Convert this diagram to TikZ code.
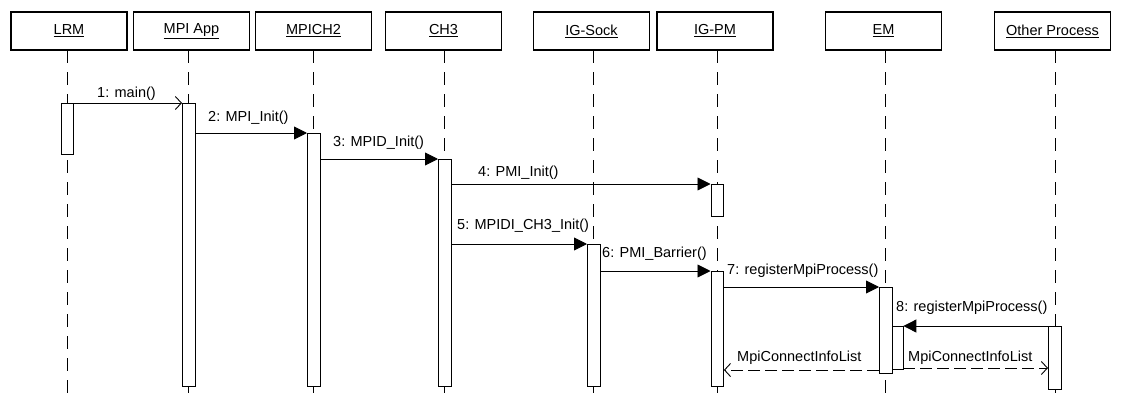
\documentclass[tikz,border=0pt]{standalone}
\usepackage{fontspec}
\setmainfont{Liberation Sans}
\usetikzlibrary{arrows.meta,calc}
\begin{document}
\begin{tikzpicture}[x=1pt,y=-1pt,
  head/.style={draw, line width=1.6pt, fill=white, minimum width=116pt, minimum height=38pt, inner sep=0pt, font=\fontsize{14.5}{16}\selectfont},
  life/.style={line width=0.9pt, dash pattern=on 13pt off 9pt},
  act/.style={draw, line width=0.9pt, fill=white, minimum width=12.5pt, inner sep=0pt, anchor=north west},
  msg/.style={line width=0.9pt, -{Triangle[length=13pt,width=13pt]}},
  call/.style={line width=0.9pt, -{Straight Barb[length=6pt,width=13pt,line width=0.9pt]}},
  ret/.style={line width=0.9pt, dash pattern=on 12pt off 5pt, -{Straight Barb[length=6pt,width=13pt,line width=0.9pt]}},
  lbl/.style={font=\fontsize{14.5}{16}\selectfont, inner sep=0pt, anchor=base west}
]
\useasboundingbox (0,0) rectangle (1122,397);
% heads
\node[head] (hL) at (69,31) {\underline{LRM}};
\node[head] (hA) at (191.5,31) {\underline{MPI App}};
\node[head] (hM) at (313.5,31) {\underline{MPICH2}};
\node[head] (hC) at (443.5,31) {\underline{CH3}};
\node[head] (hS) at (591.5,31) {\underline{IG-Sock}};
\node[head] (hP) at (715,31) {\underline{IG-PM}};
\node[head] (hE) at (883.5,31) {\underline{EM}};
\node[head] (hO) at (1052.5,31) {\underline{Other Process}};
% lifeline ends
\foreach \n/\x in {L/67,A/188,M/313,C/444,S/593,P/717,E/885,O/1055}{
  \coordinate (e\n) at (\x,397);
  \draw[life] (\x,50) -- (e\n);
}
% activations
\node[act, minimum height=51pt] (aL) at (60.5,103) {};
\node[act, minimum height=283pt] (aA) at (182,103) {};
\node[act, minimum height=253pt] (aM) at (307,133) {};
\node[act, minimum height=227pt] (aC) at (438,159) {};
\node[act, minimum height=32pt] (aP1) at (710.5,184) {};
\node[act, minimum height=142pt] (aS) at (587,244) {};
\node[act, minimum height=115pt] (aP2) at (710.5,271) {};
\node[act, minimum height=86pt] (aE) at (879,287) {};
\node[act, minimum height=43pt, minimum width=11pt] (aE2) at (891.5,326) {};
\node[act, minimum height=63pt] (aO) at (1048,326) {};
% messages
\draw[call] (aL.north east) -- (aA.north west);
\draw[msg] (aA.east |- aM.north) -- (aM.north west);
\draw[msg] (aM.east |- aC.north) -- (aC.north west);
\draw[msg] (aC.east |- aP1.north) -- (aP1.north west);
\draw[msg] (aC.east |- aS.north) -- (aS.north west);
\draw[msg] (aS.east |- aP2.north) -- (aP2.north west);
\draw[msg] (aP2.east |- aE.north) -- (aE.north west);
\draw[msg] (aO.north west) -- (aE2.north east);
\coordinate (r1) at (0,370);
\coordinate (r2) at (0,368);
\draw[ret] (aE.west |- r1) -- (aP2.east |- r1);
\draw[ret] (aE2.east |- r2) -- (aO.west |- r2);
% labels
\node[lbl] (l1) at (97,97) {1: main()};
\node[lbl] (l2) at (208,121) {2: MPI\_Init()};
\node[lbl] (l3) at (333,146) {3: MPID\_Init()};
\node[lbl] (l4) at (478,176) {4: PMI\_Init()};
\node[lbl] (l5) at (457,229) {5: MPIDI\_CH3\_Init()};
\node[lbl] (l6) at (602,257) {6: PMI\_Barrier()};
\node[lbl] (l7) at (727,274) {7: registerMpiProcess()};
\node[lbl] (l8) at (896,311) {8: registerMpiProcess()};
\node[lbl] (l9) at (737,361) {MpiConnectInfoList};
\node[lbl] (l10) at (908,361) {MpiConnectInfoList};
\end{tikzpicture}
\end{document}
